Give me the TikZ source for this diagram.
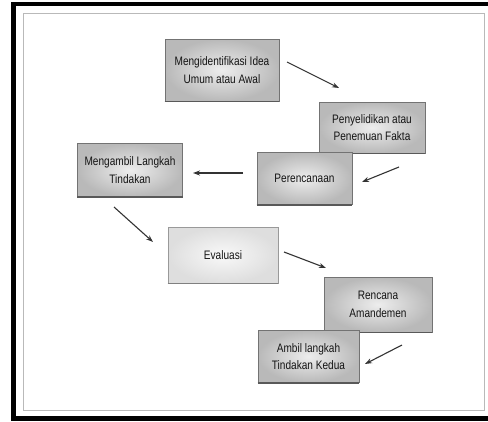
\documentclass[tikz,border=0pt]{standalone}
\usepackage{fontspec}
\setmainfont{Liberation Sans}[FakeStretch=0.82]
\usetikzlibrary{arrows.meta}
\tikzset{
  stepbox/.style={rectangle, inner sep=0pt, align=center, text=black!92,
    font=\fontsize{12.3}{17.5}\selectfont,
    shading=radial, inner color=gray!14, outer color=gray!55,
    draw=black!55, line width=0.8pt},
  lightbox/.style={stepbox, inner color=gray!5, outer color=gray!26, draw=black!40},
  flow/.style={draw=black!80, line width=1.1pt, -{Stealth[length=7pt,width=5pt]}},
  basebar/.style={draw=black!65, line width=1.8pt}
}
\begin{document}
\begin{tikzpicture}[x=1pt,y=-1pt]
\useasboundingbox (0,0) rectangle (488,421);
\fill[white] (0,0) rectangle (488,421);
% outer frame
\fill[black] (11,2) rectangle (488,5.5);
\fill[black] (11,2) rectangle (15.5,421);
\fill[black] (11,416) rectangle (488,421);
% inner frame
\draw[gray!55, line width=1pt] (23,13) rectangle (484,410);

\node[stepbox, minimum width=114pt, minimum height=62pt] (n1) at (222,70) {Mengidentifikasi Idea\\Umum atau Awal};
\draw[basebar] (n1.south west) -- (n1.south east);
\node[stepbox, minimum width=106pt, minimum height=51pt] (n2) at (372,127.5) {Penyelidikan atau\\Penemuan Fakta};
\draw[basebar] (n2.south west) -- (n2.south east);
\node[stepbox, minimum width=95pt, minimum height=52pt] (n3) at (304.5,178.5) {Perencanaan};
\draw[basebar] (n3.south west) -- (n3.south east);
\node[stepbox, minimum width=105pt, minimum height=53pt] (n4) at (130,170) {Mengambil Langkah\\Tindakan};
\draw[basebar] (n4.south west) -- (n4.south east);
\node[lightbox, minimum width=110pt, minimum height=56pt] (n5) at (223,255) {Evaluasi};
\draw[basebar, draw=black!50] (n5.south west) -- (n5.south east);
\node[stepbox, minimum width=108pt, minimum height=55pt] (n6) at (378,304.5) {Rencana\\Amandemen};
\draw[basebar] (n6.south west) -- (n6.south east);
\node[stepbox, minimum width=101pt, minimum height=52pt] (n7) at (308.5,356.5) {Ambil langkah\\Tindakan Kedua};
\draw[basebar] (n7.south west) -- (n7.south east);

\coordinate (a1) at (287,62);  \coordinate (a2) at (339,88);
\coordinate (b1) at (399,167); \coordinate (b2) at (362,182);
\coordinate (c1) at (243,173); \coordinate (c2) at (193,173);
\coordinate (d1) at (114,207); \coordinate (d2) at (153,242);
\coordinate (e1) at (284,252); \coordinate (e2) at (326,268);
\coordinate (f1) at (402,345); \coordinate (f2) at (365,364);
\draw[flow] (a1) -- (a2);
\draw[flow] (b1) -- (b2);
\draw[flow] (c1) -- (c2);
\draw[flow] (d1) -- (d2);
\draw[flow] (e1) -- (e2);
\draw[flow] (f1) -- (f2);
\end{tikzpicture}
\end{document}
